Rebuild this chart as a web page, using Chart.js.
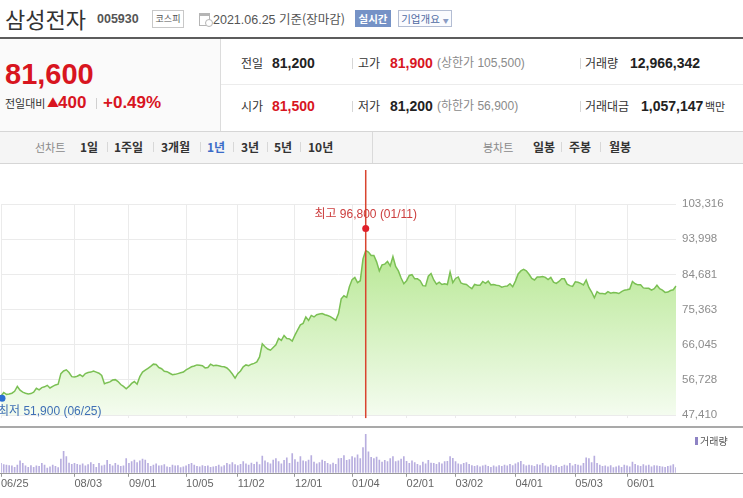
<!DOCTYPE html>
<html lang="ko">
<head>
<meta charset="utf-8">
<title>삼성전자 005930 1년 차트</title>
<script src="https://cdn.jsdelivr.net/npm/chart.js@4.4.1/dist/chart.umd.min.js"></script>
<style>
  html, body { margin: 0; padding: 0; background: #fff; }
  #page { position: relative; width: 743px; height: 498px; overflow: hidden; font-family: "Liberation Sans", "Noto Sans CJK KR", sans-serif; color: #333; }
  #page div { position: absolute; white-space: nowrap; }
  .kr { font-family: "Noto Sans CJK KR", sans-serif; }
  .red { color: #d8151f; }
  .sep { width: 1px; height: 11px; background: #d6d6d6; }
  .lbl { font: 12px/18px "Noto Sans CJK KR", sans-serif; color: #333; }
  .val { font: bold 14px/18px "Liberation Sans", sans-serif; color: #222; }
  .sub { font: 12px/18px "Liberation Sans", "Noto Sans CJK KR", sans-serif; color: #8a8a8a; }
  .tab { font: bold 12px/18px "Noto Sans CJK KR", sans-serif; color: #333; top: 138px; }
  .tabsep { width: 1px; height: 10px; background: #d8d8d8; top: 142px; }
</style>
</head>
<body>
<div id="page">
  <!-- 종목 헤더 -->
  <div class="kr" style="left:5px;top:3px;font-size:22px;line-height:30px;color:#333;">삼성전자</div>
  <div style="left:97px;top:11px;font:bold 12.5px/16px 'Liberation Sans';color:#555;">005930</div>
  <div class="kr" style="left:152px;top:10px;width:30px;height:16px;border:1px solid #c8c8c8;font-size:9px;line-height:16px;text-align:center;color:#555;">코스피</div>
  <div style="left:199px;top:13px;width:9px;height:9px;border:1px solid #b5b5b5;border-top:3px solid #b5b5b5;"></div>
  <div style="left:205px;top:19px;width:6px;height:6px;border:1px solid #b5b5b5;border-radius:50%;background:#fff;"></div>
  <div style="left:213px;top:10px;font-size:12.5px;line-height:18px;color:#555;">2021.06.25 <span class="kr">기준(장마감)</span></div>
  <div class="kr" style="left:355px;top:10px;width:36px;height:17px;background:#7592c6;color:#fff;font-size:10.5px;font-weight:bold;line-height:17px;text-align:center;">실시간</div>
  <div class="kr" style="left:398px;top:10px;width:52px;height:15px;border:1px solid #b3bdd3;background:#fafbfe;color:#4f6aa2;font-size:10.5px;line-height:15px;text-align:center;">기업개요 <span style="font-size:6px;color:#8a9cc4;">▼</span></div>
  <div style="left:0;top:37px;width:743px;height:2px;background:#5c5c5c;"></div>

  <!-- 현재가 -->
  <div style="left:0;top:39px;width:220px;height:92px;background:#fafafa;border-right:1px solid #dcdcdc;"></div>
  <div class="red" style="left:5px;top:57px;font:bold 29px/34px 'Liberation Sans';">81,600</div>
  <div class="kr" style="left:5px;top:95px;font-size:11px;line-height:16px;color:#333;">전일대비</div>
  <div class="red kr" style="left:47px;top:95px;font-size:12px;line-height:16px;">▲</div>
  <div class="red" style="left:58px;top:94px;font:bold 17px/18px 'Liberation Sans';">400</div>
  <div style="left:96px;top:98px;width:1px;height:11px;background:#d0d0d0;"></div>
  <div class="red" style="left:103px;top:94px;font:bold 17px/18px 'Liberation Sans';">+0.49%</div>

  <!-- 시세 표 -->
  <div style="left:221px;top:84px;width:522px;height:1px;background:#ececec;"></div>
  <div class="lbl" style="left:241px;top:54px;">전일</div>
  <div class="val" style="left:272px;top:54px;">81,200</div>
  <div class="sep" style="left:352px;top:58px;"></div>
  <div class="lbl" style="left:358px;top:54px;">고가</div>
  <div class="val red" style="left:390px;top:54px;color:#d8151f;">81,900</div>
  <div class="sub" style="left:437px;top:54px;">(상한가 105,500)</div>
  <div class="sep" style="left:580px;top:58px;"></div>
  <div class="lbl" style="left:585px;top:54px;">거래량</div>
  <div class="val" style="left:630px;top:54px;">12,966,342</div>

  <div class="lbl" style="left:241px;top:97px;">시가</div>
  <div class="val" style="left:272px;top:97px;color:#d8151f;">81,500</div>
  <div class="sep" style="left:352px;top:101px;"></div>
  <div class="lbl" style="left:358px;top:97px;">저가</div>
  <div class="val" style="left:390px;top:97px;">81,200</div>
  <div class="sub" style="left:437px;top:97px;">(하한가 56,900)</div>
  <div class="sep" style="left:580px;top:101px;"></div>
  <div class="lbl" style="left:585px;top:97px;">거래대금</div>
  <div class="val" style="left:641px;top:97px;">1,057,147</div>
  <div class="lbl" style="left:705px;top:97px;font-size:11px;">백만</div>

  <!-- 기간 탭 -->
  <div style="left:0;top:131px;width:743px;height:31px;background:#f5f5f5;border-top:1px solid #d6d6d6;border-bottom:1px solid #d6d6d6;"></div>
  <div style="left:372px;top:132px;width:1px;height:31px;background:#dadada;"></div>
  <div class="tab" style="left:35px;font-weight:normal;font-size:11px;color:#8a8a8a;">선차트</div>
  <div class="tab" style="left:80px;">1일</div>
  <div class="tabsep" style="left:107px;"></div>
  <div class="tab" style="left:114px;">1주일</div>
  <div class="tabsep" style="left:153px;"></div>
  <div class="tab" style="left:161px;">3개월</div>
  <div class="tabsep" style="left:200px;"></div>
  <div class="tab" style="left:207px;color:#3c6cc8;">1년</div>
  <div class="tabsep" style="left:233px;"></div>
  <div class="tab" style="left:241px;">3년</div>
  <div class="tabsep" style="left:267px;"></div>
  <div class="tab" style="left:274px;">5년</div>
  <div class="tabsep" style="left:300px;"></div>
  <div class="tab" style="left:308px;">10년</div>
  <div class="tab" style="left:483px;font-weight:normal;font-size:11px;color:#8a8a8a;">봉차트</div>
  <div class="tab" style="left:533px;">일봉</div>
  <div class="tabsep" style="left:561px;"></div>
  <div class="tab" style="left:569px;">주봉</div>
  <div class="tabsep" style="left:600px;"></div>
  <div class="tab" style="left:609px;">월봉</div>

  <!-- 차트 -->
  <div style="left:0;top:163px;width:743px;height:265px;"><canvas id="priceChart" width="743" height="265"></canvas></div>
  <div style="left:0;top:426px;width:743px;height:2px;background:#a9a9a9;"></div>
  <div style="left:0;top:428px;width:743px;height:70px;"><canvas id="volumeChart" width="743" height="70"></canvas></div>
  <div style="left:695px;top:437px;width:3px;height:8px;background:#8e83c4;"></div>
  <div class="kr" style="left:700px;top:433px;font-size:10px;line-height:16px;color:#555;">거래량</div>
</div>

<script>
// 거래일 (2020.06.25 ~ 2021.06.25)
const tradeMonths = ['2020-06', '2020-07', '2020-08', '2020-09', '2020-10', '2020-11', '2020-12',
    '2021-01', '2021-02', '2021-03', '2021-04', '2021-05', '2021-06']
const tradeDays = [
    [25, 26, 29, 30],
    [1, 2, 3, 6, 7, 8, 9, 10, 13, 14, 15, 16, 17, 20, 21, 22, 23, 24, 27, 28, 29, 30, 31],
    [3, 4, 5, 6, 7, 10, 11, 12, 13, 14, 18, 19, 20, 21, 24, 25, 26, 27, 28, 31],
    [1, 2, 3, 4, 7, 8, 9, 10, 11, 14, 15, 16, 17, 18, 21, 22, 23, 24, 25, 28, 29],
    [5, 6, 7, 8, 12, 13, 14, 15, 16, 19, 20, 21, 22, 23, 26, 27, 28, 29, 30],
    [2, 3, 4, 5, 6, 9, 10, 11, 12, 13, 16, 17, 18, 19, 20, 23, 24, 25, 26, 27, 30],
    [1, 2, 3, 4, 7, 8, 9, 10, 11, 14, 15, 16, 17, 18, 21, 22, 23, 24, 28, 29, 30],
    [4, 5, 6, 7, 8, 11, 12, 13, 14, 15, 18, 19, 20, 21, 22, 25, 26, 27, 28, 29],
    [1, 2, 3, 4, 5, 8, 9, 10, 15, 16, 17, 18, 19, 22, 23, 24, 25, 26],
    [2, 3, 4, 5, 8, 9, 10, 11, 12, 15, 16, 17, 18, 19, 22, 23, 24, 25, 26, 29, 30, 31],
    [1, 2, 5, 6, 7, 8, 9, 12, 13, 14, 15, 16, 19, 20, 21, 22, 23, 26, 27, 28, 29, 30],
    [3, 4, 6, 7, 10, 11, 12, 13, 14, 17, 18, 20, 21, 24, 25, 26, 27, 28, 31],
    [1, 2, 3, 4, 7, 8, 9, 10, 11, 14, 15, 16, 17, 18, 21, 22, 23, 24, 25]
]

// 종가 (원)
const closePrices = [
    52400, 53400, 52900, 53000,
    53200, 53700, 55000, 54000, 53500, 53200, 53000, 53100, 53500, 54500, 54100, 54700, 54900, 55300, 54600, 55000, 55400, 55600, 58400, 59100, 59400, 58700, 57600,
    57500, 57700, 58100, 57600, 58400, 58700, 58800, 59100, 58800, 58500, 57900, 55700, 56000, 56200, 56700, 56800, 56300, 55500, 55000, 54400,
    55000, 55800, 56300, 55600, 57600, 58800, 59300, 59800, 60300, 60900, 60800, 60000, 59700, 59000, 58900, 58500, 58100, 58200, 58400, 58600, 58800,
    59400, 59800, 60200, 60400, 60700, 60600, 60500, 59900, 60000, 60900, 60500, 60600, 60500, 60300, 60200, 59900, 59200, 58300, 57200,
    58400, 59100, 60200, 60700, 60500, 60900, 61100, 61500, 62800, 66300, 65500, 64900, 64600, 65300, 66000, 67700, 67200, 68500, 67700, 67600, 67000,
    68600, 70000, 71300, 71700, 73400, 72500, 73800, 73400, 74000, 74200, 74300, 74000, 73800, 73500, 73000, 72500, 74300, 78200, 79000, 78600, 81400,
    83300, 83900, 82500, 83000, 88800, 91000, 90600, 89700, 89700, 88000, 85600, 87200, 87400, 88100, 86900, 89400, 86800, 85600, 83700, 82200,
    83000, 84400, 84600, 83500, 83500, 83000, 81700, 81600, 84200, 84900, 83200, 82100, 82600, 82000, 82200, 82000, 85300, 82500,
    83600, 84000, 82400, 82100, 82000, 81400, 80900, 82000, 81800, 81800, 82800, 82300, 82900, 81900, 82000, 81800, 81700, 81300, 81500, 81600, 82200, 81400,
    82900, 84800, 85600, 86000, 85600, 84700, 83600, 83200, 84000, 84000, 84100, 83900, 83300, 83900, 82600, 82300, 82800, 83500, 83500, 82100, 81700, 81500,
    82700, 82600, 82300, 81900, 83200, 81200, 80000, 78500, 80100, 79600, 79600, 79500, 80100, 79700, 79900, 79800, 79600, 80100, 80500,
    80600, 80800, 82800, 82200, 81900, 81900, 81100, 81000, 81000, 80500, 80900, 81800, 80900, 80500, 79900, 80000, 80400, 80600, 81600
]

// 거래량 (백만주)
const volumes = [
    22, 19, 18, 17, 16, 13, 18, 28, 22, 16,
    13, 17, 13, 16, 15, 22, 18, 11, 14, 18,
    15, 12, 32, 50, 38, 23, 20, 22, 20, 18,
    21, 16, 19, 24, 20, 13, 22, 16, 18, 29,
    20, 16, 22, 18, 15, 16, 33, 22, 26, 30,
    24, 28, 32, 30, 22, 15, 18, 21, 16, 17,
    19, 14, 13, 18, 16, 17, 12, 14, 16, 20,
    22, 18, 15, 14, 17, 15, 16, 13, 14, 15,
    18, 14, 17, 22, 19, 24, 19, 17, 20, 26,
    21, 18, 23, 20, 25, 19, 39, 28, 24, 21,
    30, 33, 26, 21, 29, 35, 22, 45, 31, 25,
    38, 28, 26, 30, 40, 25, 21, 24, 30, 27,
    22, 19, 23, 20, 33, 34, 40, 29, 31, 38,
    35, 42, 33, 59, 90, 49, 36, 33, 37, 30,
    25, 29, 26, 33, 38, 26, 28, 32, 38, 27,
    22, 28, 24, 20, 17, 25, 21, 29, 23, 22,
    20, 24, 21, 26, 27, 38, 34, 26, 21, 19,
    22, 24, 20, 17, 15, 17, 14, 16, 18, 15,
    13, 16, 14, 17, 15, 18, 16, 20, 17, 21,
    24, 27, 19, 16, 18, 17, 15, 19, 18, 22,
    16, 14, 18, 15, 17, 13, 15, 18, 16, 22,
    16, 20, 18, 16, 22, 35, 33, 24, 39, 22,
    18, 15, 16, 14, 17, 12, 14, 16, 13, 18,
    16, 14, 25, 20, 17, 15, 19, 16, 18, 14,
    17, 16, 15, 14, 13, 15, 16, 19, 12
]

const priceTicks = [47410, 56728, 66045, 75363, 84681, 93998, 103316]
const tickDates = ['2020-06-25', '2020-08-03', '2020-09-01', '2020-10-05', '2020-11-02', '2020-12-01',
    '2021-01-04', '2021-02-01', '2021-03-02', '2021-04-01', '2021-05-03', '2021-06-01']

const highValue = 96800
const highDate = '2021-01-11'
const lowValue = 51900
const lowDate = '2020-06-25'

let labels = []
tradeMonths.forEach((month, i) => {
    for (let day of tradeDays[i]) {
        labels.push(month + '-' + String(day).padStart(2, '0'))
    }
})

function shortDate(d) {
    return d.slice(5).replace('-', '/')
}

function keepMonthTicks(scale) {
    scale.ticks = scale.ticks.filter(t => tickDates.includes(labels[t.value]))
}

Chart.defaults.font.family = "'Liberation Sans', 'Noto Sans CJK KR', sans-serif"

// 최고/최저 표시
const highLowMarks = {
    id: 'highLowMarks',
    afterDatasetsDraw(chart) {
        const { ctx, chartArea } = chart
        const x = chart.scales.x
        const y = chart.scales.y

        const hx = x.getPixelForValue(labels.indexOf(highDate))
        const hy = y.getPixelForValue(highValue)
        ctx.save()
        ctx.strokeStyle = '#d9442f'
        ctx.lineWidth = 1.5
        ctx.beginPath()
        ctx.moveTo(hx, 7)
        ctx.lineTo(hx, chartArea.bottom + 3)
        ctx.stroke()

        ctx.fillStyle = '#e0202a'
        ctx.beginPath()
        ctx.arc(hx, hy, 3.5, 0, Math.PI * 2)
        ctx.fill()

        ctx.font = "12px 'Liberation Sans', 'Noto Sans CJK KR'"
        ctx.textBaseline = 'middle'
        ctx.textAlign = 'center'
        ctx.fillStyle = '#cc3d3d'
        ctx.fillText('최고 ' + highValue.toLocaleString('en-US') + ' (' + shortDate(highDate) + ')', hx, hy - 14)

        const lx = x.getPixelForValue(labels.indexOf(lowDate))
        const ly = y.getPixelForValue(lowValue)
        ctx.fillStyle = '#2a6fd4'
        ctx.beginPath()
        ctx.arc(lx + 1, ly, 3.5, 0, Math.PI * 2)
        ctx.fill()

        ctx.textAlign = 'left'
        ctx.fillStyle = '#3f6fb5'
        ctx.fillText('최저 ' + lowValue.toLocaleString('en-US') + ' (' + shortDate(lowDate) + ')', lx - 3, ly + 14)
        ctx.restore()
    }
}

new Chart(document.getElementById('priceChart'), {
    type: 'line',
    data: {
        labels: labels,
        datasets: [{
            data: closePrices,
            borderColor: '#7bc054',
            borderWidth: 1.5,
            pointRadius: 0,
            tension: 0,
            fill: 'start',
            backgroundColor: function (context) {
                const area = context.chart.chartArea
                if (!area) return 'rgba(0,0,0,0)'
                const g = context.chart.ctx.createLinearGradient(0, area.top, 0, area.bottom)
                g.addColorStop(0, '#a7e27b')
                g.addColorStop(1, '#f4fcef')
                return g
            }
        }]
    },
    options: {
        responsive: false,
        animation: false,
        layout: { padding: { top: 41, bottom: 8, left: 1, right: 0 } },
        plugins: { legend: { display: false }, tooltip: { enabled: false } },
        scales: {
            x: {
                offset: false,
                afterBuildTicks: keepMonthTicks,
                ticks: { display: false, autoSkip: false },
                grid: { color: '#ebebeb', drawTicks: true, tickLength: 3 },
                border: { display: false }
            },
            y: {
                position: 'right',
                min: priceTicks[0],
                max: priceTicks[priceTicks.length - 1],
                afterBuildTicks: scale => { scale.ticks = priceTicks.map(v => ({ value: v })) },
                afterFit: scale => { scale.width = 67 },
                ticks: {
                    padding: 6,
                    color: '#8c8c8c',
                    font: { size: 11.5 },
                    callback: value => value.toLocaleString('en-US')
                },
                grid: { color: '#ebebeb', drawTicks: false },
                border: { display: false }
            }
        }
    },
    plugins: [highLowMarks]
})

// 거래량 기준선
const volumeBaseline = {
    id: 'volumeBaseline',
    afterDraw(chart) {
        const { ctx, chartArea, width } = chart
        const yLine = Math.round(chartArea.bottom) + 0.5
        ctx.save()
        ctx.strokeStyle = '#9a9a9a'
        ctx.lineWidth = 1
        ctx.beginPath()
        ctx.moveTo(0, yLine)
        ctx.lineTo(width, yLine)
        ctx.stroke()
        ctx.restore()
    }
}

new Chart(document.getElementById('volumeChart'), {
    type: 'bar',
    data: {
        labels: labels,
        datasets: [{
            data: volumes,
            backgroundColor: '#b8aedf',
            barThickness: 1
        }]
    },
    options: {
        responsive: false,
        animation: false,
        layout: { padding: { top: 2, bottom: 6, left: 1, right: 67 } },
        plugins: { legend: { display: false }, tooltip: { enabled: false } },
        scales: {
            x: {
                offset: false,
                afterBuildTicks: keepMonthTicks,
                ticks: {
                    autoSkip: false,
                    maxRotation: 0,
                    align: 'start',
                    padding: 1,
                    color: '#666',
                    font: { size: 11 },
                    callback: value => shortDate(labels[value])
                },
                grid: { offset: false, drawOnChartArea: false, drawTicks: true, tickLength: 4, color: '#999' },
                border: { display: false }
            },
            y: { display: false, min: 0, max: 100 }
        }
    },
    plugins: [volumeBaseline]
})
</script>
</body>
</html>
